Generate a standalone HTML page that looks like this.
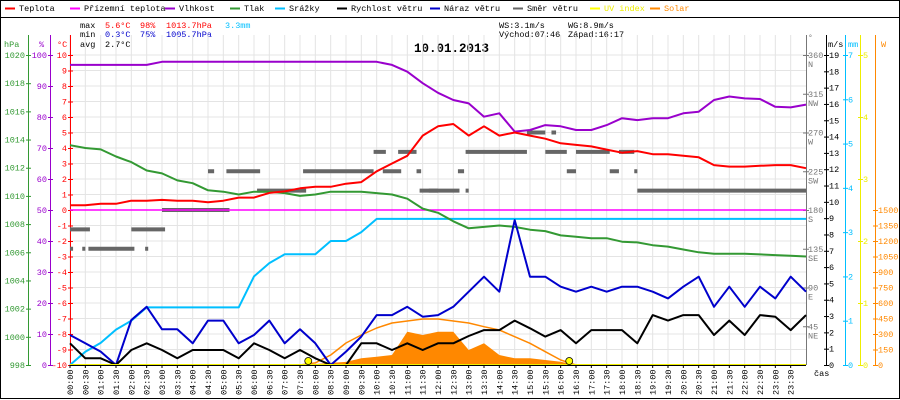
<!DOCTYPE html>
<html><head><meta charset="utf-8"><style>
body{margin:0;background:#fff}
svg{display:block;font-family:"Liberation Mono",monospace}
</style></head><body>
<svg id="c" width="900" height="400" xmlns="http://www.w3.org/2000/svg">
<rect x="0.5" y="0.5" width="899" height="398" fill="#fff" stroke="#000"/>
<line x1="0" y1="17.5" x2="900" y2="17.5" stroke="#000"/>
<g id="legend" font-size="8.5" font-family="Liberation Mono,monospace"></g>
<g font-size="8.5">
<text x="80" y="28" fill="#000">max</text><text x="105" y="28" fill="#f00">5.6°C</text><text x="140" y="28" fill="#f00">98%</text><text x="166" y="28" fill="#f00">1013.7hPa</text><text x="225" y="28" fill="#00bfff">3.3mm</text>
<text x="80" y="37" fill="#000">min</text><text x="105" y="37" fill="#00c">0.3°C</text><text x="140" y="37" fill="#00c">75%</text><text x="166" y="37" fill="#00c">1005.7hPa</text>
<text x="80" y="47" fill="#000">avg</text><text x="105" y="47" fill="#000">2.7°C</text>
<text x="499" y="28" fill="#000">WS:3.1m/s</text><text x="568" y="28" fill="#000">WG:8.9m/s</text>
<text x="499" y="37" fill="#000">Východ:07:46</text><text x="568" y="37" fill="#000">Západ:16:17</text>
</g>
<text x="414" y="52" font-size="12.5" font-weight="bold" fill="#000">10.01.2013</text>
<g id="grid"></g>
<g id="axes"></g>
<g id="series"></g>
<g id="xaxis"></g>
</svg>
<script>
// Half-hourly samples 00:00 .. 24:00 (49 values)
const hours = Array.from({length:49},(_,i)=>i/2);
const temperature = [0.3,0.3,0.4,0.4,0.6,0.6,0.65,0.6,0.6,0.5,0.6,0.8,0.8,1.1,1.2,1.4,1.5,1.5,1.7,1.8,2.5,3.0,3.5,4.8,5.4,5.55,4.8,5.4,4.8,5.0,4.8,4.6,4.3,4.2,4.1,3.9,3.7,3.8,3.6,3.6,3.5,3.4,2.9,2.8,2.8,2.85,2.9,2.9,2.7];
const dewGround = new Array(49).fill(0);
const humidity = [96.8,96.8,96.8,96.8,96.8,96.8,97.8,97.8,97.8,97.8,97.8,97.8,97.8,97.8,97.8,97.8,97.8,97.8,97.8,97.8,97.8,96.8,94.6,90.9,87.8,85.5,84.4,80.1,81.2,75.3,75.8,77.4,77,75.8,75.8,77.4,79.6,79,79.6,79.6,81.2,81.7,85.5,86.6,86,85.8,83.3,83.1,84];
const pressure = [1013.6,1013.4,1013.3,1012.8,1012.4,1011.8,1011.6,1011.1,1010.9,1010.4,1010.3,1010.1,1010.3,1010.3,1010.2,1010.0,1010.1,1010.3,1010.3,1010.3,1010.2,1010.1,1009.8,1009.1,1008.8,1008.2,1007.7,1007.8,1007.9,1007.8,1007.6,1007.5,1007.2,1007.1,1007.0,1007.0,1006.75,1006.7,1006.5,1006.4,1006.2,1006.0,1005.9,1005.9,1005.9,1005.85,1005.8,1005.75,1005.7];
const rain = [0,0.3,0.5,0.8,1.0,1.3,1.3,1.3,1.3,1.3,1.3,1.3,2.0,2.3,2.5,2.5,2.5,2.8,2.8,3.0,3.3,3.3,3.3,3.3,3.3,3.3,3.3,3.3,3.3,3.3,3.3,3.3,3.3,3.3,3.3,3.3,3.3,3.3,3.3,3.3,3.3,3.3,3.3,3.3,3.3,3.3,3.3,3.3,3.3];
const windSpeed = [1.33,0.41,0.41,0,0.92,1.33,0.92,0.41,0.92,0.92,0.92,0.41,1.33,0.92,0.41,0.92,0.41,0,0,1.33,1.33,0.92,1.33,0.92,1.33,1.33,1.78,2.14,2.14,2.72,2.25,1.74,2.14,1.33,2.14,2.14,2.14,1.33,3.06,2.72,3.06,3.06,1.84,2.72,1.84,3.06,2.96,2.14,3.06];
const windGust = [1.84,1.33,0.82,0,2.76,3.57,2.19,2.19,1.33,2.72,2.72,1.33,1.84,2.72,1.33,2.19,1.33,0,0.82,1.74,3.06,3.06,3.57,2.96,3.06,3.57,4.49,5.41,4.49,8.88,5.41,5.41,4.8,4.49,4.8,4.49,4.8,4.8,4.49,4.08,4.8,5.41,3.57,4.8,3.57,4.8,4.08,5.41,4.49];
const solarMax = [0,0,0,0,0,0,0,0,0,0,0,0,0,0,0,0,20,97,213,290,358,406,426,445,445,426,406,371,339,274,210,129,48,0,0,0,0,0,0,0,0,0,0,0,0,0,0,0,0];
const solar = [0,0,0,0,0,0,0,0,0,0,0,0,0,0,0,0,10,20,30,65,80,97,322,290,322,322,145,210,97,65,65,48,32,0,0,0,0,0,0,0,0,0,0,0,0,0,0,0,0];
const uvIndex = new Array(49).fill(0);
// wind direction segments
const dirFrom = [0,2.0,0,0.4,0.6,2.45,3.0,4.5,5.1,7.6,10.2,11.3,6.1,11.4,9.9,10.7,11.7,12.9,18.5,12.65,16.2,17.6,18.4,12.9,15.5,16.5,17.9,14.9,15.7];
const dirTo   = [0.65,3.1,0.1,0.5,2.1,2.55,5.2,4.7,6.2,9.9,10.8,11.45,7.7,12.0,10.3,11.3,12.7,13.0,24,12.85,16.5,17.9,18.5,14.9,16.2,17.6,18.4,15.5,15.85];
const dirDeg  = [157.5,157.5,135,135,135,135,180,225,225,225,225,225,202.5,202.5,247.5,247.5,202.5,202.5,202.5,225,225,225,225,247.5,247.5,247.5,247.5,270,270];
const sunEvents = [7.77,16.28];
const legendNames = ["Teplota","Přízemní teplota","Vlhkost","Tlak","Srážky","Rychlost větru","Náraz větru","Směr větru","UV index","Solar"];
const legendColors = ["#f00","#f0f","#90c","#393","#00bfff","#000","#00c","#666","#ff0","#f80"];
const legendX = [5,70,165,230,275,337,430,513,590,650];

const NS="http://www.w3.org/2000/svg";
const X0=70,X1=806,Y0=55,Y1=365;
const xS=h=>X0+(X1-X0)*h/24;
const yT=t=>Y0+(10-t)*(Y1-Y0)/20;
const yH=p=>Y0+(100-p)*(Y1-Y0)/100;
const yP=p=>Y0+(1020-p)*(Y1-Y0)/22;
const yR=m=>Y1-m*(Y1-Y0)/7;
const yW=v=>Y1-v*(Y1-Y0)/19;
const yD=d=>Y1-d*(Y1-Y0)/360;
const yS=w=>Y1-w*155/1500;
const yU=u=>Y1-u*(Y1-Y0)/5;
function el(tag,attrs,parent){const e=document.createElementNS(NS,tag);for(const k in attrs)e.setAttribute(k,attrs[k]);parent.appendChild(e);return e;}
const G=id=>document.getElementById(id);

// legend
legendNames.forEach((n,i)=>{
  const ln=el('line',{x1:legendX[i],y1:8.5,x2:legendX[i]+10,y2:8.5,stroke:legendColors[i],'stroke-width':2},G('legend'));
  
  
  const t=el('text',{x:legendX[i]+14,y:11,fill:(i==8?'#ee0':(i==9?'#f80':'#000'))},G('legend'));
  t.textContent=n;
  
  
});

// grid
for(let t=-10;t<=10;t++){
  const l=el('line',{x1:X0,x2:X1,y1:yT(t),y2:yT(t),stroke:'#e4e4e4'},G('grid'));
  
  
}
for(let i=0;i<48;i++){
  const l=el('line',{x1:xS(i/2),x2:xS(i/2),y1:35,y2:Y1,stroke:'#e4e4e4'},G('grid'));
  
  
}

// axes
function axis(x,color,vals,yf,labelSide,fmt,head,hx){
  const a=G('axes');
  const ln=el('line',{x1:x+.5,x2:x+.5,y1:35,y2:Y1+1,stroke:color},a);
  
  
  vals.forEach(v=>{
    const y=yf(v);
    el('line',{x1:x-2,x2:x+3,y1:y+.5,y2:y+.5,stroke:color},a);
    const t=el('text',{x:labelSide<0?x-3:x+3,y:y+3,fill:color,'font-size':8.5,'text-anchor':labelSide<0?'end':'start'},a);
    t.textContent=fmt(v);
    
    
  });
  const h=el('text',{x:hx,y:47,fill:color,'font-size':8.5},a);
  h.textContent=head;
  
  
}
const rng=(a,b,s)=>{const r=[];for(let v=a;v<=b+1e-9;v+=s)r.push(v);return r;};
axis(28,'#393',rng(998,1020,2),yP,-1,v=>v,'hPa',4);
axis(50,'#90c',rng(0,100,10),yH,-1,v=>v,'%',39);
axis(70,'#f00',rng(-10,10,1),yT,-1,v=>v,'°C',57);
axis(826,'#000',rng(0,19,1),yW,1,v=>v,'m/s',828);
axis(845,'#00bfff',rng(0,7,1),yR,1,v=>v,'mm',848);
axis(860,'#ee0',rng(0,5,1),yU,1,v=>v,'',862);
axis(875,'#f80',rng(0,1500,150),yS,1,v=>v,'W',881);
// direction axis
(function(){
  const a=G('axes');
  el('line',{x1:806.5,x2:806.5,y1:35,y2:Y1,stroke:'#777'},a);
  const h=el('text',{x:808,y:40,fill:'#777','font-size':8},a);h.textContent='°';
  const dn=['','NE','E','SE','S','SW','W','NW','N'];
  for(let i=1;i<=8;i++){
    const y=yD(i*45);
    el('line',{x1:803,x2:809,y1:y+.5,y2:y+.5,stroke:'#777'},a);
    const t=el('text',{x:808,y:y+3,fill:'#777','font-size':8.5},a);t.textContent=i*45;
    
    
    const t2=el('text',{x:808,y:y+12,fill:'#777','font-size':8.5},a);t2.textContent=dn[i];
  }
})();

// series
const S=G('series');
function poly(ys,yf,color,w,name){
  const p=el('polyline',{points:ys.map((v,i)=>xS(hours[i]).toFixed(1)+','+yf(v).toFixed(1)).join(' '),fill:'none',stroke:color,'stroke-width':w,'stroke-linejoin':'round'},S);
  
  
}
// solar area
(function(){
  let d='M'+xS(0)+','+Y1;
  solar.forEach((v,i)=>{d+=' L'+xS(hours[i]).toFixed(1)+','+yS(v).toFixed(1);});
  d+=' L'+xS(24)+','+Y1+' Z';
  const p=el('path',{d:d,fill:'#f80'},S);
  
  
})();
poly(solarMax,yS,'#f80',1.5,'solar-max-line');
// wind dir segments
dirDeg.forEach((d,i)=>{
  const r=el('rect',{x:xS(dirFrom[i]),y:yD(d)-2,width:Math.max(3,xS(dirTo[i])-xS(dirFrom[i])),height:4,fill:'#666'},S);
  
  
});
poly(dewGround,yT,'#f0f',1.5,'ground-temperature-line');
poly(rain,yR,'#00bfff',2,'precipitation-line');
poly(pressure,yP,'#393',2,'pressure-line');
poly(humidity,yH,'#90c',2,'humidity-line');
poly(temperature,yT,'#f00',2,'temperature-line');
poly(windGust,yW,'#00c',2,'wind-gust-line');
poly(windSpeed,yW,'#000',2,'wind-speed-line');
poly(uvIndex,yU,'#ee0',2,'uv-index-line');
sunEvents.forEach(h=>{
  const c=el('circle',{cx:xS(h),cy:Y1-4,r:3.5,fill:'#ff0',stroke:'#000','stroke-width':0.8},S);
  
  
});

// x axis
const XA=G('xaxis');
el('line',{x1:X0,x2:X1,y1:Y1+.5,y2:Y1+.5,stroke:'#000'},XA);
for(let i=0;i<48;i++){
  const x=xS(i/2);
  el('line',{x1:x,x2:x,y1:Y1,y2:Y1+3,stroke:'#000'},XA);
  const hh=String(Math.floor(i/2)).padStart(2,'0')+':'+(i%2?'30':'00');
  const t=el('text',{x:0,y:0,'font-size':8.5,fill:'#000','text-anchor':'start',transform:`translate(${x+3},395) rotate(-90)`},XA);
  t.textContent=hh;
  
  
}
const cas=el('text',{x:814,y:376,'font-size':8.5,fill:'#000'},XA);cas.textContent='čas';


</script>
</body></html>
